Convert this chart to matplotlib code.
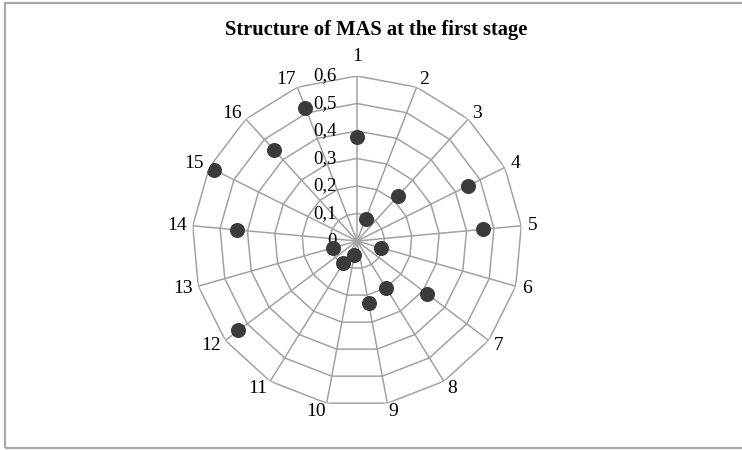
import numpy as np
import matplotlib
matplotlib.use("Agg")
import matplotlib.pyplot as plt
from matplotlib.patches import Rectangle

# data
categories = [str(i) for i in range(1, 18)]
values = [0.38, 0.087, 0.22, 0.45, 0.46, 0.09, 0.32, 0.20, 0.23,
          0.05, 0.095, 0.54, 0.09, 0.44, 0.58, 0.45, 0.52]
rings = [0.1, 0.2, 0.3, 0.4, 0.5, 0.6]
ring_labels = ["0", "0,1", "0,2", "0,3", "0,4", "0,5", "0,6"]
title = "Structure of MAS at the first stage"

plt.rcParams['font.family'] = ['Liberation Serif', 'DejaVu Serif']

fig = plt.figure(figsize=(7.42, 4.5), dpi=100)
fig.patch.set_facecolor("white")

# grey frame round the chart area
fig.add_artist(Rectangle((5/742, 2/450), 745/742, 445/450, transform=fig.transFigure,
                         fill=False, edgecolor="#a8a8a8", lw=1.6))

cx, cy, R = 357, 241, 165
ax = fig.add_axes([(cx-R)/742, (450-cy-R)/450, 2*R/742, 2*R/450], projection="polar")
ax.set_theta_zero_location("N")
ax.set_theta_direction(-1)
ax.set_ylim(0, 0.6)
ax.grid(False)
ax.spines["polar"].set_visible(False)
ax.set_xticks([])
ax.set_yticks([])
ax.patch.set_alpha(0)

n = len(categories)
angles = np.arange(n) * 2*np.pi/n
closed = np.append(angles, angles[0])

gc = "#a2a2a2"
for r in rings:
    ax.plot(closed, [r]*(n+1), color=gc, lw=1.1, zorder=1)
for a in angles:
    ax.plot([a, a], [0, rings[-1]], color=gc, lw=1.1, zorder=1)

# value labels along axis 1
for i, lab in enumerate(ring_labels):
    r = i*0.1
    ax.annotate(lab, xy=(0, r), xytext=(-20, 0), textcoords="offset pixels",
                ha="right", va="center", fontsize=13.5, color="black", zorder=2)

# category labels round the outside, sitting just off each vertex corner
for a, lab in zip(angles, categories):
    s, c = np.sin(a), np.cos(a)
    hw = 4.5*len(lab)
    dx = np.sign(s)*hw + 7*s if abs(s) > 0.05 else 0
    dy = 8*c + (12 if abs(s) < 0.05 else 0)
    ax.annotate(lab, xy=(a, rings[-1]), xytext=(dx, dy), textcoords="offset pixels",
                ha="center", va="center", fontsize=14, color="black", zorder=2)

ax.plot(angles, values, linestyle="none", marker="o", markersize=9.8,
        color="#3b3b3b", zorder=3)

fig.text(376.5/742, 1-30/450, title, ha="center", va="center",
         fontsize=14.8, fontweight="bold")

fig.savefig("out.png", dpi=100)
